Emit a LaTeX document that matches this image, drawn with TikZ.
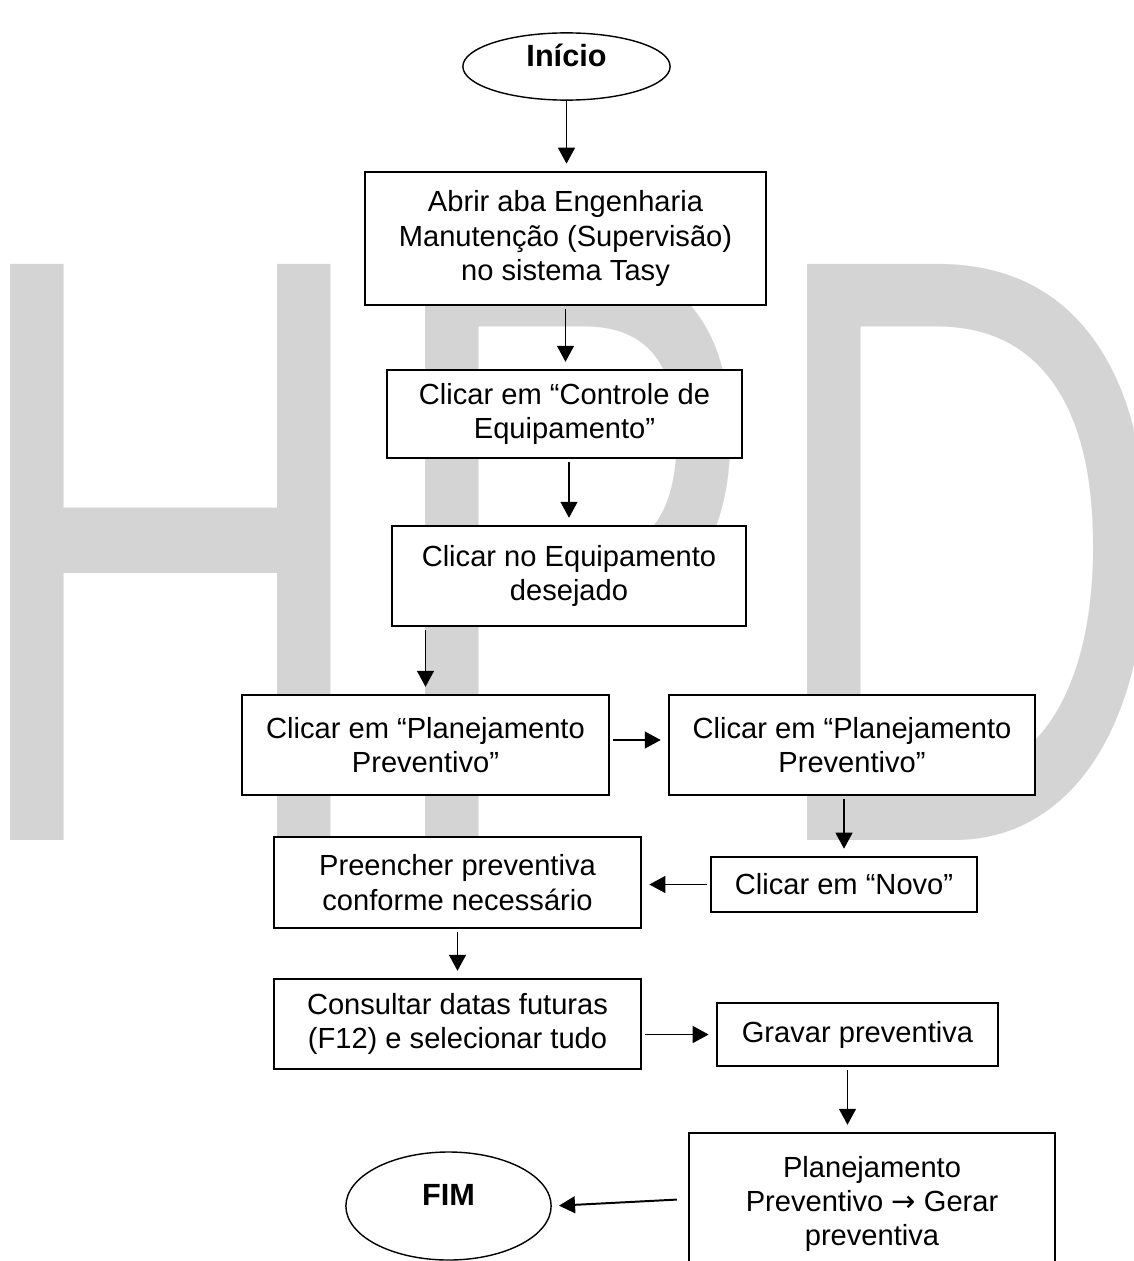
\documentclass[tikz,border=0pt]{standalone}
\usepackage{fontspec}
\setmainfont{Liberation Sans}
\newfontfamily\arrowfont{DejaVu Sans}
\newfontfamily\markfont{Liberation Sans}
\usetikzlibrary{shapes.geometric,arrows.meta,calc}

\begin{document}
\begin{tikzpicture}[x=0.025cm, y=-0.025cm, every node/.style={font=\fontsize{20.7}{24.4}\selectfont}]
	% Define colors
	\definecolor{markgray}{RGB}{212, 212, 212}

	% Styles
	\tikzstyle{step_box} = [rectangle, draw=black, fill=white, line width=1.4pt, align=center, inner sep=0pt]
	\tikzstyle{term_oval} = [ellipse, draw=black, fill=white, line width=1pt, inner sep=0pt, text depth=0.55cm, font=\fontsize{21.8}{24}\selectfont\bfseries]
	\tikzstyle{flow_arrow} = [-{Triangle[length=0.4cm, width=0.42cm]}, line width=1.4pt, shorten >=0.18cm, shorten <=0.08cm]

	\useasboundingbox (0,0) rectangle (1133,1261);

	% Watermark letters behind the chart
	\coordinate (mark_origin) at (-36,840);
	\node[anchor=base west, inner sep=0pt, outer sep=0pt, text=markgray, xscale=0.685, transform shape, font=\markfont\fontsize{595.5}{600}\selectfont] (hpd) at (mark_origin) {HPD};

	% Start and end
	\node[term_oval, minimum width=5.18cm, minimum height=1.68cm] (inicio) at (566.5, 66.5) {Início};
	\node[term_oval, minimum width=5.13cm, minimum height=2.7cm] (fim) at (448.5, 1206) {FIM};

	% Steps, main column
	\node[step_box, minimum width=10.03cm, minimum height=3.33cm] (abrir) at (565.5, 238.5) {Abrir aba Engenharia\\ Manutenção (Supervisão)\\ no sistema Tasy};
	\node[step_box, minimum width=8.88cm, minimum height=2.2cm] (controle) at (564.5, 414) {Clicar em “Controle de\\ Equipamento”};
	\node[step_box, minimum width=8.85cm, minimum height=2.5cm] (equip) at (569, 576) {Clicar no Equipamento\\ desejado};

	% Steps, two columns
	\node[step_box, minimum width=9.18cm, minimum height=2.5cm] (planej_a) at (425.5, 745) {Clicar em “Planejamento\\ Preventivo”};
	\node[step_box, minimum width=9.15cm, minimum height=2.5cm] (planej_b) at (852, 745) {Clicar em “Planejamento\\ Preventivo”};
	\node[step_box, minimum width=6.65cm, minimum height=1.38cm] (novo) at (844, 884.5) {Clicar em “Novo”};
	\node[step_box, minimum width=9.18cm, minimum height=2.28cm] (preencher) at (457.5, 882.5) {Preencher preventiva\\ conforme necessário};
	\node[step_box, minimum width=9.18cm, minimum height=2.25cm] (consultar) at (457.5, 1024) {Consultar datas futuras\\ (F12) e selecionar tudo};
	\node[step_box, minimum width=7.03cm, minimum height=1.58cm] (gravar) at (857.5, 1034.5) {Gravar preventiva};
	\node[step_box, minimum width=9.15cm, minimum height=3.55cm] (gerar) at (872, 1204) {Planejamento\\ Preventivo {\arrowfont →} Gerar\\ preventiva};

	% Arrows
	\draw[flow_arrow, shorten <=0pt] (inicio.south) -- (inicio.south |- abrir.north);
	\draw[flow_arrow] (abrir.south) -- (abrir.south |- controle.north);
	\draw[flow_arrow] (equip.north |- controle.south) -- (equip.north);
	\draw[flow_arrow] (planej_a.north |- equip.south) -- (planej_a.north);
	\draw[flow_arrow] ($(planej_a.east)+(0,-5)$) -- ($(planej_b.west)+(0,-5)$);
	\draw[flow_arrow] (novo.north |- planej_b.south) -- (novo.north);
	\draw[flow_arrow] (novo.west) -- (preencher.east |- novo.west);
	\draw[flow_arrow] (preencher.south) -- (consultar.north);
	\draw[flow_arrow] (consultar.east |- gravar.west) -- (gravar.west);
	\coordinate (gravar_out) at ($(gravar.south)+(-10,0)$);
	\draw[flow_arrow] (gravar_out) -- (gravar_out |- gerar.north);
	\draw[flow_arrow, shorten <=0.28cm] ($(gerar.west)+(0,-5)$) -- (fim.east);

\end{tikzpicture}
\end{document}
